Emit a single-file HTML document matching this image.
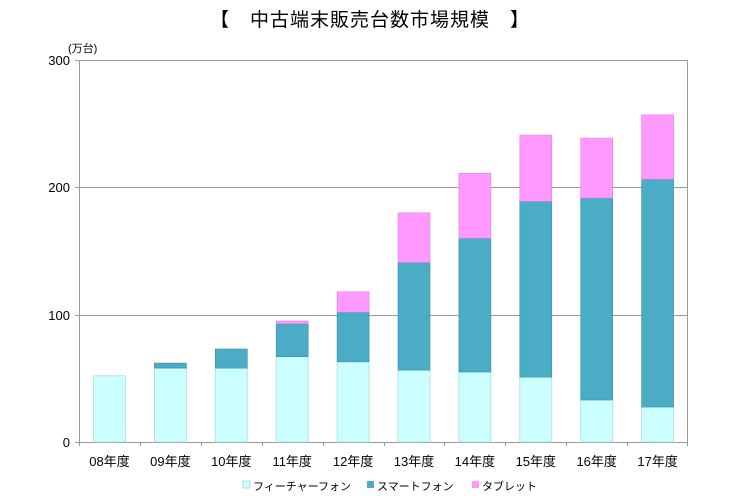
<!DOCTYPE html><html><head><meta charset="utf-8"><style>body{margin:0;background:#fff}svg{display:block;font-family:"Liberation Sans","Noto Sans CJK JP",sans-serif}</style></head><body>
<svg width="750" height="500" viewBox="0 0 750 500">
<text x="370" y="26" text-anchor="middle" font-size="19" letter-spacing="1" fill="#000">【　中古端末販売台数市場規模　】</text>
<text x="68" y="52" font-size="11">(万台)</text>
<g stroke="#999" stroke-width="1">
<line x1="79" y1="60.5" x2="688" y2="60.5"/><line x1="79" y1="187.5" x2="688" y2="187.5"/><line x1="79" y1="315.5" x2="688" y2="315.5"/>
<line x1="687.5" y1="60" x2="687.5" y2="442"/>
<line x1="79.5" y1="60" x2="79.5" y2="446"/><line x1="75" y1="442.5" x2="688" y2="442.5"/>
<line x1="75" y1="60.5" x2="79" y2="60.5"/><line x1="75" y1="187.5" x2="79" y2="187.5"/><line x1="75" y1="315.5" x2="79" y2="315.5"/>
<line x1="140.5" y1="442" x2="140.5" y2="446"/><line x1="201.5" y1="442" x2="201.5" y2="446"/><line x1="262.5" y1="442" x2="262.5" y2="446"/><line x1="323.5" y1="442" x2="323.5" y2="446"/><line x1="384.5" y1="442" x2="384.5" y2="446"/><line x1="444.5" y1="442" x2="444.5" y2="446"/><line x1="505.5" y1="442" x2="505.5" y2="446"/><line x1="566.5" y1="442" x2="566.5" y2="446"/><line x1="627.5" y1="442" x2="627.5" y2="446"/><line x1="687.5" y1="442" x2="687.5" y2="446"/>
</g>
<g font-size="13" text-anchor="end"><text x="70" y="65">300</text><text x="70" y="192">200</text><text x="70" y="320">100</text><text x="70" y="447">0</text></g>
<g fill="#ccffff" stroke="#a8dede" stroke-width="0.8">
<rect x="93.5" y="375.8" width="32" height="66.2"/><rect x="154.4" y="368.1" width="32" height="73.9"/><rect x="215.3" y="368.1" width="32" height="73.9"/><rect x="276.2" y="356.7" width="32" height="85.3"/><rect x="337.1" y="361.8" width="32" height="80.2"/><rect x="398" y="370.1" width="32" height="71.9"/><rect x="458.9" y="372" width="32" height="70"/><rect x="519.8" y="377.1" width="32" height="64.9"/><rect x="580.7" y="400" width="32" height="42"/><rect x="641.6" y="407" width="32" height="35"/>
</g>
<g fill="#4bacc6" stroke="#3a8fa6" stroke-width="0.6">
<rect x="154.4" y="363.1" width="32" height="5"/><rect x="215.3" y="349" width="32" height="19.1"/><rect x="276.2" y="323.6" width="32" height="33.1"/><rect x="337.1" y="312.1" width="32" height="49.7"/><rect x="398" y="262.5" width="32" height="107.6"/><rect x="458.9" y="238.3" width="32" height="133.7"/><rect x="519.8" y="201.3" width="32" height="175.8"/><rect x="580.7" y="198" width="32" height="202"/><rect x="641.6" y="179.1" width="32" height="227.9"/>
</g>
<g fill="#ff99ff" stroke="#e080e0" stroke-width="0.6">
<rect x="276.2" y="321" width="32" height="2.6"/><rect x="337.1" y="291.8" width="32" height="20.3"/><rect x="398" y="212.8" width="32" height="49.7"/><rect x="458.9" y="173.3" width="32" height="65"/><rect x="519.8" y="135.1" width="32" height="66.2"/><rect x="580.7" y="138.1" width="32" height="59.9"/><rect x="641.6" y="114.8" width="32" height="64.3"/>
</g>
<g font-size="13" text-anchor="middle"><text x="109.5" y="466">08年度</text><text x="170.4" y="466">09年度</text><text x="231.3" y="466">10年度</text><text x="292.2" y="466">11年度</text><text x="353.1" y="466">12年度</text><text x="414" y="466">13年度</text><text x="474.9" y="466">14年度</text><text x="535.8" y="466">15年度</text><text x="596.7" y="466">16年度</text><text x="657.6" y="466">17年度</text></g>
<rect x="243" y="481" width="7" height="7" fill="#ccffff" stroke="#a8dede"/><text x="253" y="490" font-size="11">フィーチャーフォン</text>
<rect x="367" y="481" width="7" height="7" fill="#4bacc6"/><text x="377" y="490" font-size="11">スマートフォン</text>
<rect x="472" y="481" width="7" height="7" fill="#ff99ff"/><text x="482" y="490" font-size="11">タブレット</text>
</svg></body></html>
